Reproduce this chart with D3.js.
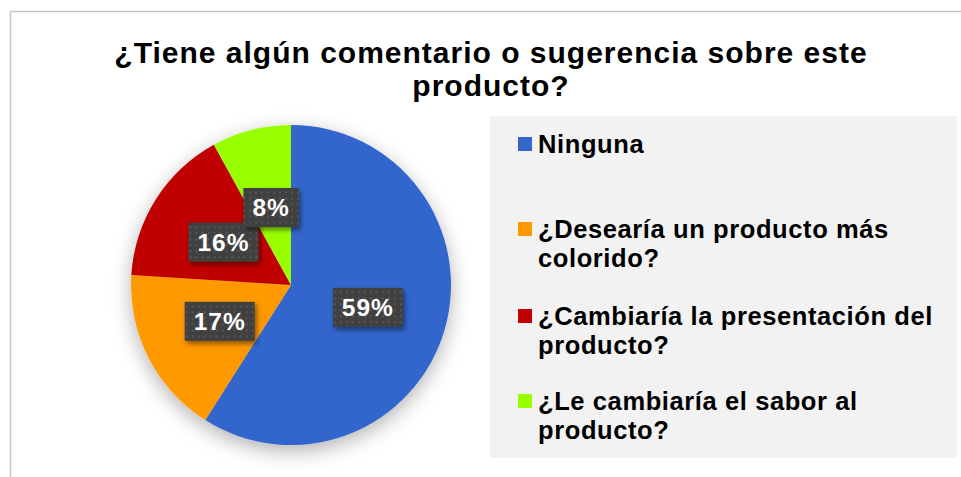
<!DOCTYPE html>
<html>
<head>
<meta charset="utf-8">
<script src="https://cdn.jsdelivr.net/npm/d3@7"></script>
<style>
  body { margin: 0; background: #fff; }
  svg { display: block; font-family: Arial, "Liberation Sans", sans-serif; }
</style>
</head>
<body>
<svg id="chart" width="961" height="477"></svg>
<script>
var titleLines = ["¿Tiene algún comentario o sugerencia sobre este", "producto?"];
var categories = [
  "Ninguna",
  "¿Desearía un producto más colorido?",
  "¿Cambiaría la presentación del producto?",
  "¿Le cambiaría el sabor al producto?"
];
var values = [59, 17, 16, 8];
var colors = ["#3366CC", "#FF9900", "#C00000", "#99FF00"];

var svg = d3.select("#chart");
var defs = svg.append("defs");

// soft shadow under the pie
var f1 = defs.append("filter").attr("id", "pieShadow")
  .attr("x", "-30%").attr("y", "-30%").attr("width", "160%").attr("height", "160%");
f1.append("feDropShadow").attr("dx", 0).attr("dy", 6).attr("stdDeviation", 10)
  .attr("flood-color", "#000").attr("flood-opacity", 0.3);

var f2 = defs.append("filter").attr("id", "boxShadow")
  .attr("x", "-20%").attr("y", "-20%").attr("width", "150%").attr("height", "160%");
f2.append("feDropShadow").attr("dx", 2).attr("dy", 3).attr("stdDeviation", 2.5)
  .attr("flood-color", "#000").attr("flood-opacity", 0.45);

// dotted fill for the data labels
var pat = defs.append("pattern").attr("id", "dots")
  .attr("width", 6).attr("height", 6).attr("patternUnits", "userSpaceOnUse");
pat.append("rect").attr("width", 6).attr("height", 6).attr("fill", "#404040");
pat.append("rect").attr("x", 2).attr("y", 2).attr("width", 2).attr("height", 2).attr("fill", "#565656");

// chart border
svg.append("rect")
  .attr("x", 10.5).attr("y", 11.5).attr("width", 1000).attr("height", 600)
  .attr("fill", "none").attr("stroke", "#c6c6c6").attr("stroke-width", 1.5);

// title
svg.append("text")
  .attr("x", 491).attr("y", 63)
  .attr("text-anchor", "middle")
  .attr("font-size", 30).attr("font-weight", "bold").attr("letter-spacing", 1).attr("fill", "#000")
  .selectAll("tspan").data(titleLines).join("tspan")
  .attr("x", 491).attr("dy", (d, i) => i ? 33 : 0)
  .text(d => d);

// pie
var cx = 291, cy = 285, r = 160;
var pie = d3.pie().sort(null).value(d => d);
var arcs = pie(values);
var arc = d3.arc().innerRadius(0).outerRadius(r);

var g = svg.append("g").attr("transform", "translate(" + cx + "," + cy + ")");
g.append("g").attr("filter", "url(#pieShadow)")
  .selectAll("path").data(arcs).join("path")
  .attr("d", arc)
  .attr("fill", (d, i) => colors[i]);

// data labels
var lab = g.selectAll("g.lab").data(arcs).join("g").attr("class", "lab")
  .attr("transform", d => "translate(" + arc.centroid(d) + ")");
lab.each(function (d) {
  var el = d3.select(this);
  var t = el.append("text")
    .attr("text-anchor", "middle").attr("dy", "0.36em")
    .attr("font-size", 24.5).attr("font-weight", "bold").attr("letter-spacing", 1).attr("fill", "#fff")
    .text(d.data + "%");
  var w = t.node().getComputedTextLength() + 18, h = 39;
  el.insert("rect", "text")
    .attr("x", -w / 2).attr("y", -h / 2).attr("width", w).attr("height", h)
    .attr("fill", "url(#dots)").attr("filter", "url(#boxShadow)");
});

// legend
svg.append("rect")
  .attr("x", 490).attr("y", 116).attr("width", 467).attr("height", 342)
  .attr("fill", "#f2f2f2");

var legendY = [153, 238, 325, 410];
var maxW = 410;
var leg = svg.selectAll("g.leg").data(categories).join("g").attr("class", "leg")
  .attr("transform", (d, i) => "translate(518," + legendY[i] + ")");
leg.append("rect")
  .attr("x", 0).attr("y", -16).attr("width", 14).attr("height", 14)
  .attr("fill", (d, i) => colors[i]);
leg.each(function (d) {
  var t = d3.select(this).append("text")
    .attr("x", 20).attr("font-size", 25.5).attr("font-weight", "bold")
    .attr("letter-spacing", 0.6).attr("fill", "#000");
  var words = d.split(" "), line = [];
  var ts = t.append("tspan").attr("x", 20).attr("dy", 0);
  words.forEach(function (w) {
    line.push(w);
    ts.text(line.join(" "));
    if (ts.node().getComputedTextLength() > maxW && line.length > 1) {
      line.pop();
      ts.text(line.join(" "));
      line = [w];
      ts = t.append("tspan").attr("x", 20).attr("dy", 28.5).text(w);
    }
  });
});
</script>
</body>
</html>
